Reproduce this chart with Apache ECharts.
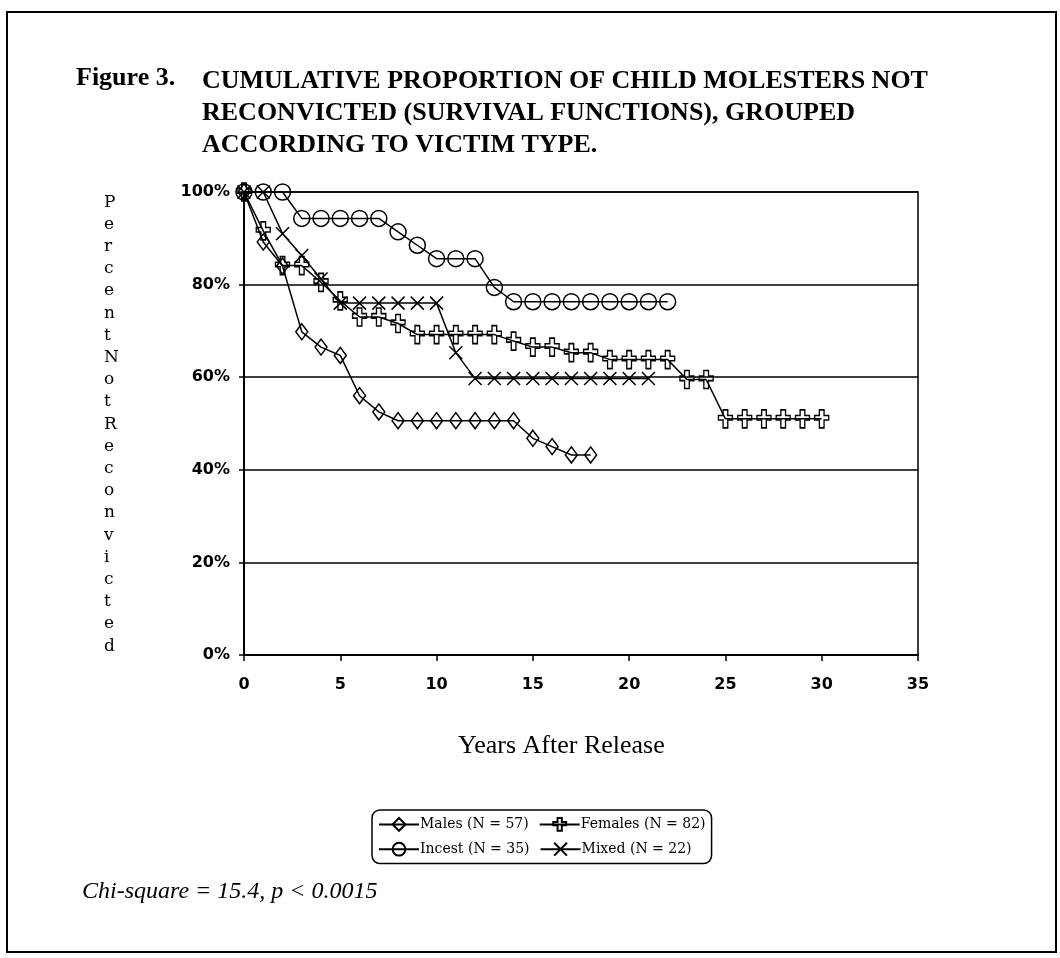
<!DOCTYPE html>
<html><head><meta charset="utf-8">
<script src="https://cdn.jsdelivr.net/npm/echarts@6/dist/echarts.min.js"></script>
<style>html,body{margin:0;padding:0;background:#fff}#c{width:1060px;height:958px}</style>
</head><body><div id="c"></div>
<script>
// ---- data (years after release, percent not reconvicted) ----
const males   = [[0,100],[1,89.2],[2,84],[3,69.8],[4,66.5],[5,64.7],[6,56],[7,52.5],[8,50.6],[9,50.6],[10,50.6],[11,50.6],[12,50.6],[13,50.6],[14,50.6],[15,46.8],[16,45],[17,43.2],[18,43.2]];
const females = [[0,100],[1,91.6],[2,84.1],[3,84.1],[4,80.5],[5,76.5],[6,73],[7,73],[8,71.6],[9,69.2],[10,69.2],[11,69.2],[12,69.2],[13,69.2],[14,67.8],[15,66.5],[16,66.5],[17,65.3],[18,65.3],[19,63.8],[20,63.8],[21,63.8],[22,63.8],[23,59.5],[24,59.5],[25,51],[26,51],[27,51],[28,51],[29,51],[30,51]];
const incest  = [[0,100],[1,100],[2,100],[3,94.3],[4,94.3],[5,94.3],[6,94.3],[7,94.3],[8,91.4],[9,88.5],[10,85.6],[11,85.6],[12,85.6],[13,79.4],[14,76.3],[15,76.3],[16,76.3],[17,76.3],[18,76.3],[19,76.3],[20,76.3],[21,76.3],[22,76.3]];
const mixed   = [[0,100],[1,100],[2,91],[3,86.3],[4,81.2],[5,76],[6,76],[7,76],[8,76],[9,76],[10,76],[11,65.3],[12,59.7],[13,59.7],[14,59.7],[15,59.7],[16,59.7],[17,59.7],[18,59.7],[19,59.7],[20,59.7],[21,59.7]];
const seriesNames = ['Males (N = 57)','Females (N = 82)','Incest (N = 35)','Mixed (N = 22)'];
const titleLead = 'Figure 3.';
const titleLines = ['CUMULATIVE PROPORTION OF CHILD MOLESTERS NOT','RECONVICTED (SURVIVAL FUNCTIONS), GROUPED','ACCORDING TO VICTIM TYPE.'];
const yTitle = 'Percent Not Reconvicted';
const xTitle = 'Years After Release';
const note = 'Chi-square = 15.4, p < 0.0015';

const chart = echarts.init(document.getElementById('c'));
const clear = 'rgba(255,255,255,0)';
const crossPath = 'path://M4,0H8V5H12V9H8V16H4V9H0V5H4Z';
const xPath = 'path://M0,0L10,10M10,0L0,10';
function mk(name, data, symbol, size){
  return {name, type:'line', data, symbol, symbolSize:size, showSymbol:true,
    lineStyle:{color:'#000', width:1.5},
    itemStyle:{color:clear, borderColor:'#000', borderWidth:1.5},
    emphasis:{disabled:true}, animation:false, z:3};
}
const tickFont = {color:'#000', fontFamily:'DejaVu Sans', fontWeight:'bold', fontSize:16};
chart.setOption({
  animation:false,
  backgroundColor:'#fff',
  title:[
    {text:titleLead, left:71, top:60, textStyle:{fontFamily:'Liberation Serif', fontWeight:'bold', fontSize:26, color:'#000'}},
    {text:titleLines.join('\n'), left:197, top:60, textStyle:{fontFamily:'Liberation Serif', fontWeight:'bold', fontSize:26, lineHeight:32, color:'#000'}}
  ],
  grid:{left:244, right:142, top:192, bottom:303, show:true, borderColor:'#000', borderWidth:1.5, backgroundColor:'transparent'},
  xAxis:{type:'value', min:0, max:35, interval:5,
    axisLine:{show:true, lineStyle:{color:'#000', width:2}},
    axisTick:{show:true, length:6, lineStyle:{color:'#000', width:1.5}},
    axisLabel:Object.assign({margin:22}, tickFont),
    splitLine:{show:false}},
  yAxis:{type:'value', min:0, max:100, interval:20,
    axisLine:{show:true, lineStyle:{color:'#000', width:2}},
    axisTick:{show:true, length:5, lineStyle:{color:'#000', width:1.5}},
    axisLabel:Object.assign({margin:14, formatter:'{value}%'}, tickFont),
    splitLine:{show:true, lineStyle:{color:'#000', width:1.5}}},
  legend:{left:372, top:810, width:350, orient:'horizontal', itemGap:10, itemWidth:40, itemHeight:16,
    padding:[7,6], borderColor:'#000', borderWidth:1.5, borderRadius:8,
    textStyle:{fontFamily:'DejaVu Serif', fontSize:14, color:'#000', padding:[0,0,0,-4]},
    data:seriesNames, selectedMode:false},
  series:[
    mk(seriesNames[0], males, 'diamond', [12,16]),
    mk(seriesNames[1], females, crossPath, [14,18]),
    mk(seriesNames[2], incest, 'circle', 16),
    mk(seriesNames[3], mixed, xPath, 13)
  ],
  graphic:[
    {type:'rect', shape:{x:7, y:12, width:1049, height:940}, style:{fill:'none', stroke:'#000', lineWidth:2}, silent:true},
    {type:'text', left:104, top:191, style:{text:yTitle.replace(/ /g,'').split('').join('\n'), fontFamily:'DejaVu Serif', fontSize:17, lineHeight:22.2, fill:'#000'}},
    {type:'text', left:458, top:733, style:{text:xTitle, fontFamily:'Liberation Serif', fontSize:26, fill:'#000'}},
    {type:'text', left:82, top:880, style:{text:note, fontFamily:'Liberation Serif', fontStyle:'italic', fontSize:24, fill:'#000'}}
  ]
});
</script></body></html>
